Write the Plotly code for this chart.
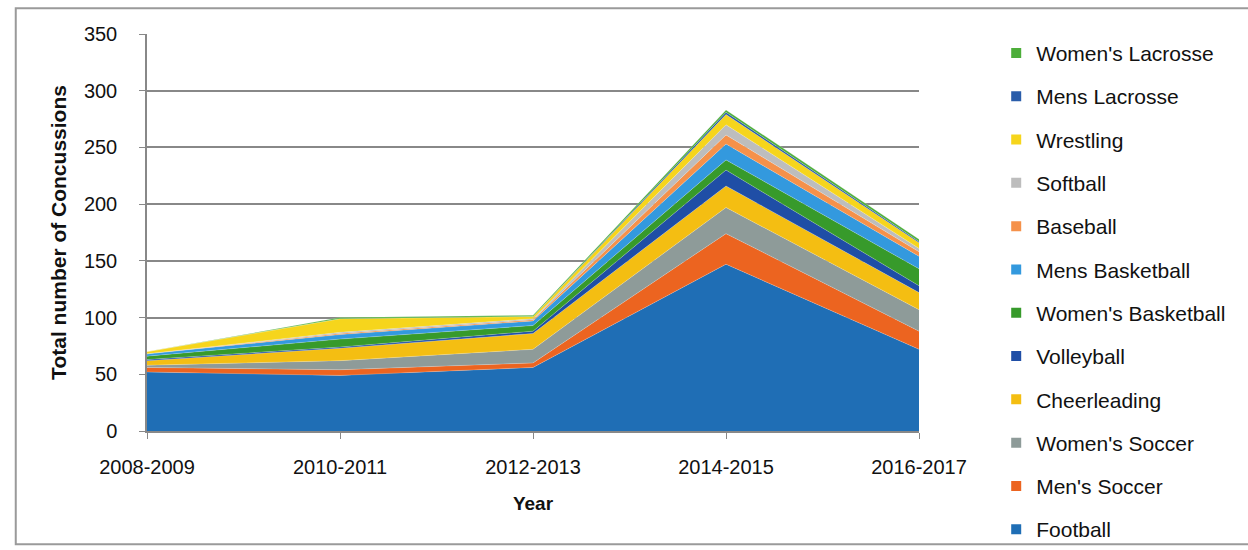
import plotly.graph_objects as go

# Seasons on the x axis
years = ["2008-2009", "2010-2011", "2012-2013", "2014-2015", "2016-2017"]

# Concussions per sport and season (stacked bottom to top)
football = [52, 49, 56, 147, 72]
mens_soccer = [4, 5, 4, 27, 16]
womens_soccer = [2, 8, 12, 23, 19]
cheerleading = [4, 11, 14, 19, 15]
volleyball = [1, 1, 2, 14, 6]
womens_basketball = [3, 7, 5, 9, 15]
mens_basketball = [2, 4, 4, 14, 11]
baseball = [0, 1, 1, 8, 4]
softball = [0, 1, 1, 9, 3]
wrestling = [2, 12, 2, 9, 5]
mens_lacrosse = [0, 0, 0, 2, 1]
womens_lacrosse = [0, 1, 1, 2, 2]

y_ticks = [0, 50, 100, 150, 200, 250, 300, 350]

series = [
    ("Football", football, "#1F6EB5"),
    ("Men's Soccer", mens_soccer, "#EC6420"),
    ("Women's Soccer", womens_soccer, "#8E9B99"),
    ("Cheerleading", cheerleading, "#F4BE12"),
    ("Volleyball", volleyball, "#1F4EA6"),
    ("Women's Basketball", womens_basketball, "#379A2B"),
    ("Mens Basketball", mens_basketball, "#3399DE"),
    ("Baseball", baseball, "#F5914A"),
    ("Softball", softball, "#BDBDBD"),
    ("Wrestling", wrestling, "#F6D51C"),
    ("Mens Lacrosse", mens_lacrosse, "#2A5DAA"),
    ("Women's Lacrosse", womens_lacrosse, "#4DAE3A"),
]

FONT = "Liberation Sans, Arial, sans-serif"

fig = go.Figure()

# stacked area layers, bottom to top
for name, vals, color in series:
    fig.add_trace(go.Scatter(
        x=years, y=vals, name=name, mode="lines",
        stackgroup="one", showlegend=False,
        line=dict(width=0.6, color="rgba(255,255,255,0.35)"),
        fillcolor=color, hoverinfo="x+y+name",
    ))

# square swatches for the legend, top layer listed first
for name, vals, color in reversed(series):
    fig.add_trace(go.Scatter(
        x=[None], y=[None], name=name, mode="markers",
        legendgroup="lg_" + name, showlegend=True,
        marker=dict(symbol="square", size=10, color=color),
    ))

fig.update_layout(
    width=1248, height=550,
    margin=dict(l=147, r=329, t=34, b=119),
    paper_bgcolor="white", plot_bgcolor="white",
    font=dict(family=FONT, size=20, color="#111"),
    showlegend=True,
    legend=dict(
        traceorder="grouped", x=1.10, xanchor="left", y=1.003, yanchor="top",
        font=dict(family=FONT, size=21, color="#111"),
        tracegroupgap=13, itemwidth=30, bgcolor="rgba(0,0,0,0)",
        maxheight=1.0,
    ),
    xaxis=dict(
        type="category", range=[0, 4], showgrid=False,
        showline=True, linecolor="#888", linewidth=1.5,
        ticks="outside", ticklen=6, tickcolor="#888",
        ticklabelstandoff=11,
        title=dict(text="<b>Year</b>", standoff=20, font=dict(size=19)),
    ),
    yaxis=dict(
        range=[0, 350], tickvals=y_ticks,
        showgrid=True, gridcolor="#888", gridwidth=1.5,
        showline=True, linecolor="#888", linewidth=1.5,
        ticks="outside", ticklen=6, tickcolor="#888",
        ticklabelstandoff=18, zeroline=False,
        title=dict(text="<b>Total number of Concussions</b>", standoff=12, font=dict(size=21)),
    ),
    shapes=[
        dict(type="rect", xref="paper", yref="paper",
             x0=-0.17, x1=1.45, y0=-0.285, y1=1.065,
             line=dict(color="#9a9a9a", width=2), layer="below"),
    ],
)

fig.write_html("out.html")
